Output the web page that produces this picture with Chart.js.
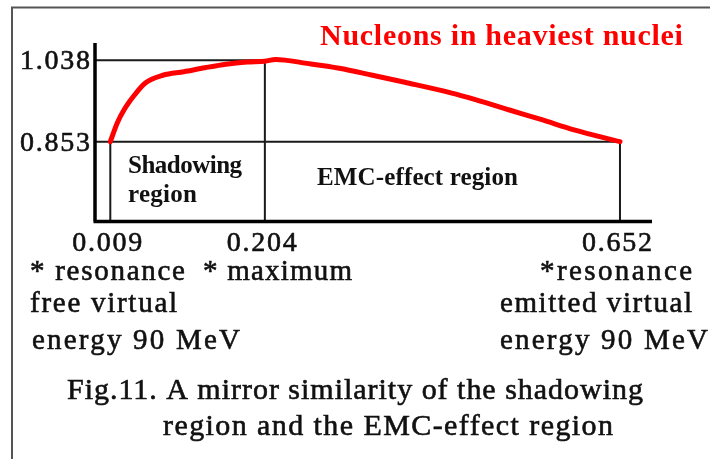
<!DOCTYPE html>
<html>
<head>
<meta charset="utf-8">
<script src="https://cdn.jsdelivr.net/npm/chart.js@4/dist/chart.umd.min.js"></script>
<style>
  html, body { margin: 0; padding: 0; background: #ffffff; }
  #wrap { width: 710px; height: 459px; }
</style>
</head>
<body>
<div id="wrap"><canvas id="c" width="710" height="459"></canvas></div>
<script>
// ---- data ----
const xTickValues = [0.009, 0.204, 0.652];
const xTickLabels = ['0.009', '0.204', '0.652'];
const yTickValues = [0.853, 1.038];
const yTickLabels = ['0.853', '1.038'];
const curveX = [0.009, 0.0179, 0.0262, 0.0395, 0.0528, 0.0753, 0.1018, 0.1284, 0.155, 0.1814, 0.204,
                0.2176, 0.2571, 0.2978, 0.3398, 0.3805, 0.4386, 0.4707, 0.5126, 0.5533, 0.594, 0.652];
const curveY = [0.853, 0.896, 0.925, 0.959, 0.986, 1.004, 1.012, 1.021, 1.029, 1.034, 1.036,
                1.040, 1.031, 1.020, 1.004, 0.988, 0.964, 0.948, 0.925, 0.903, 0.880, 0.853];
const titleText = 'Nucleons in heaviest nuclei';
const regionLabels = ['Shadowing', 'region', 'EMC-effect region'];
const noteLeft = ['* resonance', 'free virtual', 'energy 90 MeV'];
const noteMid = ['* maximum'];
const noteRight = ['*resonance', 'emitted virtual', 'energy 90 MeV'];
const caption = ['Fig.11. A mirror similarity of the shadowing', 'region and the EMC-effect region'];

const points = curveX.map((x, i) => ({ x: x, y: curveY[i] }));

function txt(ctx, s, x, y, font, color, w, thick) {
  ctx.save();
  ctx.font = font;
  ctx.fillStyle = color;
  ctx.strokeStyle = color;
  ctx.textAlign = 'left';
  ctx.textBaseline = 'alphabetic';
  try { ctx.letterSpacing = '0px'; } catch (e) {}
  const w0 = ctx.measureText(s).width;
  if (w && s.length > 1) {
    try { ctx.letterSpacing = ((w - w0) / (s.length - 1)).toFixed(2) + 'px'; } catch (e) {}
  }
  ctx.fillText(s, x, y);
  if (thick) { ctx.lineWidth = thick; ctx.strokeText(s, x, y); }
  ctx.restore();
}

const SERIF = '"Liberation Serif", "Times New Roman", serif';

const decor = {
  id: 'decor',
  beforeDraw(chart) {
    const ctx = chart.ctx;
    ctx.save();
    ctx.fillStyle = '#ffffff';
    ctx.fillRect(0, 0, chart.width, chart.height);
    ctx.strokeStyle = '#555555';
    ctx.lineWidth = 2;
    ctx.beginPath();
    ctx.moveTo(12, 459);
    ctx.lineTo(12, 7.5);
    ctx.lineTo(710, 7.5);
    ctx.stroke();
    ctx.restore();
  },
  beforeDatasetsDraw(chart) {
    const ctx = chart.ctx;
    const xs = chart.scales.x, ys = chart.scales.y;
    const a = chart.chartArea;
    const px = xTickValues.map(v => xs.getPixelForValue(v));
    const py = yTickValues.map(v => ys.getPixelForValue(v));
    ctx.save();
    ctx.strokeStyle = '#1a1a1a';
    ctx.lineWidth = 2;
    ctx.beginPath();
    ctx.moveTo(a.left, py[1]); ctx.lineTo(px[1], py[1]);
    ctx.moveTo(a.left, py[0]); ctx.lineTo(px[2], py[0]);
    ctx.moveTo(px[0], py[0]); ctx.lineTo(px[0], a.bottom);
    ctx.moveTo(px[1], py[1]); ctx.lineTo(px[1], a.bottom);
    ctx.moveTo(px[2], py[0]); ctx.lineTo(px[2], a.bottom);
    ctx.stroke();
    ctx.strokeStyle = '#000000';
    ctx.lineWidth = 3.5;
    ctx.beginPath();
    ctx.moveTo(a.left, a.top); ctx.lineTo(a.left, a.bottom);
    ctx.moveTo(a.left - 1.5, a.bottom); ctx.lineTo(a.right, a.bottom);
    ctx.stroke();
    ctx.restore();

    const tickFont = '28px ' + SERIF;
    yTickLabels.forEach((s, i) => txt(ctx, s, 20, py[i] + 9, tickFont, '#111', 70, 0.6));
    xTickLabels.forEach((s, i) => txt(ctx, s, px[i] - 38, 251, tickFont, '#111', 70, 0.6));

    const bFont = 'bold 25px ' + SERIF;
    txt(ctx, regionLabels[0], 128, 173, bFont, '#111', 114);
    txt(ctx, regionLabels[1], 128, 202, bFont, '#111', 69);
    txt(ctx, regionLabels[2], 317, 185, bFont, '#111', 201);
  },
  afterDraw(chart) {
    const ctx = chart.ctx;
    txt(ctx, titleText, 320, 45, 'bold 30px ' + SERIF, '#ff0000', 363);
    const nFont = '29px ' + SERIF;
    txt(ctx, noteLeft[0], 30, 280, nFont, '#111', 155, 0.6);
    txt(ctx, noteLeft[1], 30, 312, nFont, '#111', 147, 0.6);
    txt(ctx, noteLeft[2], 32, 349, nFont, '#111', 208, 0.6);
    txt(ctx, noteMid[0], 203, 280, nFont, '#111', 149, 0.6);
    txt(ctx, noteRight[0], 540, 280, nFont, '#111', 152, 0.6);
    txt(ctx, noteRight[1], 500, 312, nFont, '#111', 192, 0.6);
    txt(ctx, noteRight[2], 500, 349, nFont, '#111', 208, 0.6);
    const cFont = '30px ' + SERIF;
    txt(ctx, caption[0], 67, 399, cFont, '#111', 576, 0.6);
    txt(ctx, caption[1], 163, 435, cFont, '#111', 450, 0.6);
  }
};

new Chart(document.getElementById('c'), {
  type: 'line',
  data: {
    datasets: [{
      data: points,
      borderColor: '#ff0000',
      borderWidth: 5,
      pointRadius: 0,
      cubicInterpolationMode: 'monotone',
      fill: false,
      borderCapStyle: 'round',
      borderJoinStyle: 'round'
    }]
  },
  options: {
    responsive: false,
    animation: false,
    events: [],
    layout: { padding: { left: 95, right: 58, top: 43, bottom: 237.5 } },
    plugins: { legend: { display: false }, title: { display: false }, tooltip: { enabled: false } },
    scales: {
      x: { type: 'linear', display: false, min: -0.0103, max: 0.6924 },
      y: { type: 'linear', display: false, min: 0.6716, max: 1.0773 }
    }
  },
  plugins: [decor]
});
</script>
</body>
</html>
